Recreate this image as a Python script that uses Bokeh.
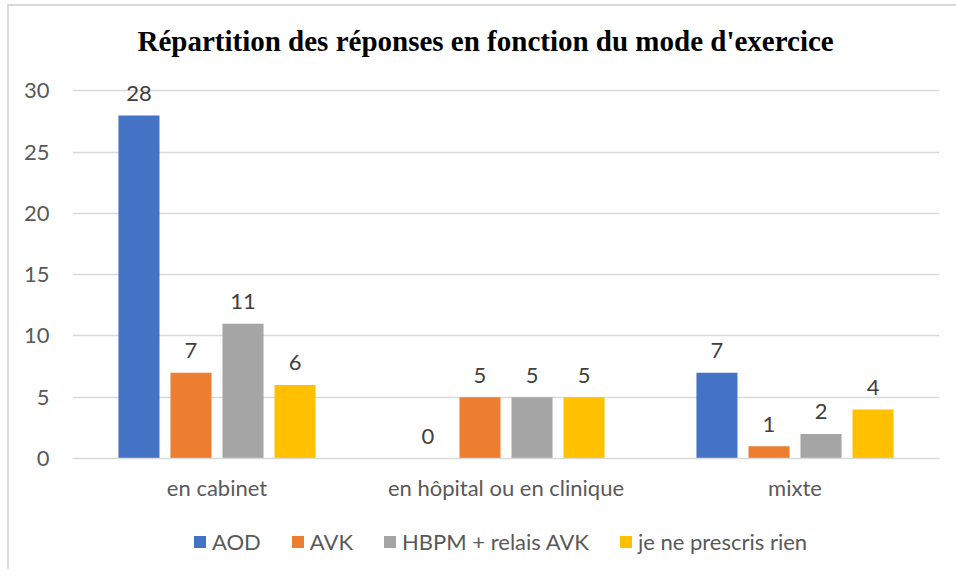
from bokeh.plotting import figure
from bokeh.layouts import column
from bokeh.models import ColumnDataSource, FactorRange, Range1d, Legend, LegendItem, FixedTicker
from bokeh.transform import dodge
from bokeh.core.properties import value
from bokeh.embed import file_html
from bokeh.resources import INLINE

categories = ["en cabinet", "en hôpital ou en clinique", "mixte"]
series_names = ["AOD", "AVK", "HBPM + relais AVK", "je ne prescris rien"]
aod = [28, 0, 7]
avk = [7, 5, 1]
hbpm = [11, 5, 2]
rien = [6, 5, 4]
y_ticks = [0, 5, 10, 15, 20, 25, 30]
title_text = "Répartition des réponses en fonction du mode d'exercice"

colors = ["#4472C4", "#ED7D31", "#A5A5A5", "#FFC000"]
offsets = [-0.27, -0.09, 0.09, 0.27]

src = ColumnDataSource(dict(
    cat=categories,
    s0=aod, s1=avk, s2=hbpm, s3=rien,
    t0=[str(v) for v in aod], t1=[str(v) for v in avk],
    t2=[str(v) for v in hbpm], t3=[str(v) for v in rien],
))

W = 947
p = figure(width=W, height=509, x_range=FactorRange(*categories, range_padding=0),
           y_range=Range1d(0, 31.5), output_backend="svg", toolbar_location=None,
           min_border_left=63, min_border_right=17, min_border_top=61, min_border_bottom=57)
p.outline_line_color = None
p.background_fill_color = "white"
p.border_fill_color = "white"

FONT = "Lato"
for i, col in enumerate(colors):
    p.vbar(x=dodge("cat", offsets[i], range=p.x_range), top=f"s{i}", width=0.142,
           source=src, fill_color=col, line_color=None)
    p.text(x=dodge("cat", offsets[i], range=p.x_range), y=f"s{i}", text=f"t{i}", source=src,
           text_align="center", text_baseline="alphabetic", y_offset=-22,
           text_font=value(FONT), text_font_size="22px", text_color="#404040")

p.xgrid.grid_line_color = None
p.ygrid.grid_line_color = "#D9D9D9"
p.ygrid.grid_line_width = 1.3
p.yaxis.ticker = FixedTicker(ticks=y_ticks)
p.yaxis.axis_line_color = None
p.yaxis.major_tick_line_color = None
p.yaxis.minor_tick_line_color = None
p.yaxis.major_tick_out = 0
p.yaxis.major_label_standoff = 23
p.xaxis.axis_line_color = "#D9D9D9"
p.xaxis.axis_line_width = 1.5
p.xaxis.major_tick_line_color = None
p.xaxis.minor_tick_line_color = None
p.xaxis.major_tick_out = 0
p.xaxis.major_label_standoff = 15
for ax in (p.xaxis, p.yaxis):
    ax.major_label_text_font = FONT
    ax.major_label_text_font_size = "22px"
    ax.major_label_text_color = "#595959"

p.title.text = title_text
p.title.align = "left"
p.title.offset = 65
p.title.standoff = 32
p.title.text_font = "Liberation Serif"
p.title.text_font_style = "bold"
p.title.text_font_size = "29px"
p.title.text_color = "black"

# legend strip below the chart
p2 = figure(width=W, height=54, x_range=Range1d(0, 1), y_range=Range1d(0, 1),
            output_backend="svg", toolbar_location=None,
            min_border_left=0, min_border_right=0, min_border_top=0, min_border_bottom=0)
p2.axis.visible = False
p2.grid.visible = False
p2.outline_line_color = None
p2.border_fill_color = "white"
swatches = [p2.vbar(x=[0.5], top=[0], bottom=[0], width=0, fill_color=c, line_color=None)
            for c in colors]
legend = Legend(items=[LegendItem(label=n, renderers=[r]) for n, r in zip(series_names, swatches)],
                orientation="horizontal", location=(120, 14),
                glyph_width=15, glyph_height=15, label_standoff=5, spacing=29,
                padding=0, margin=0, border_line_color=None, background_fill_alpha=0,
                label_text_font=FONT, label_text_font_size="22px", label_text_color="#595959")
p2.add_layout(legend, "center")

layout = column(p, p2, spacing=0,
                styles={"border-left": "2px solid #D9D9D9", "border-top": "2px solid #D9D9D9",
                        "margin-left": "7px", "margin-top": "4px"})
open("out.html", "w").write(file_html(layout, INLINE))
